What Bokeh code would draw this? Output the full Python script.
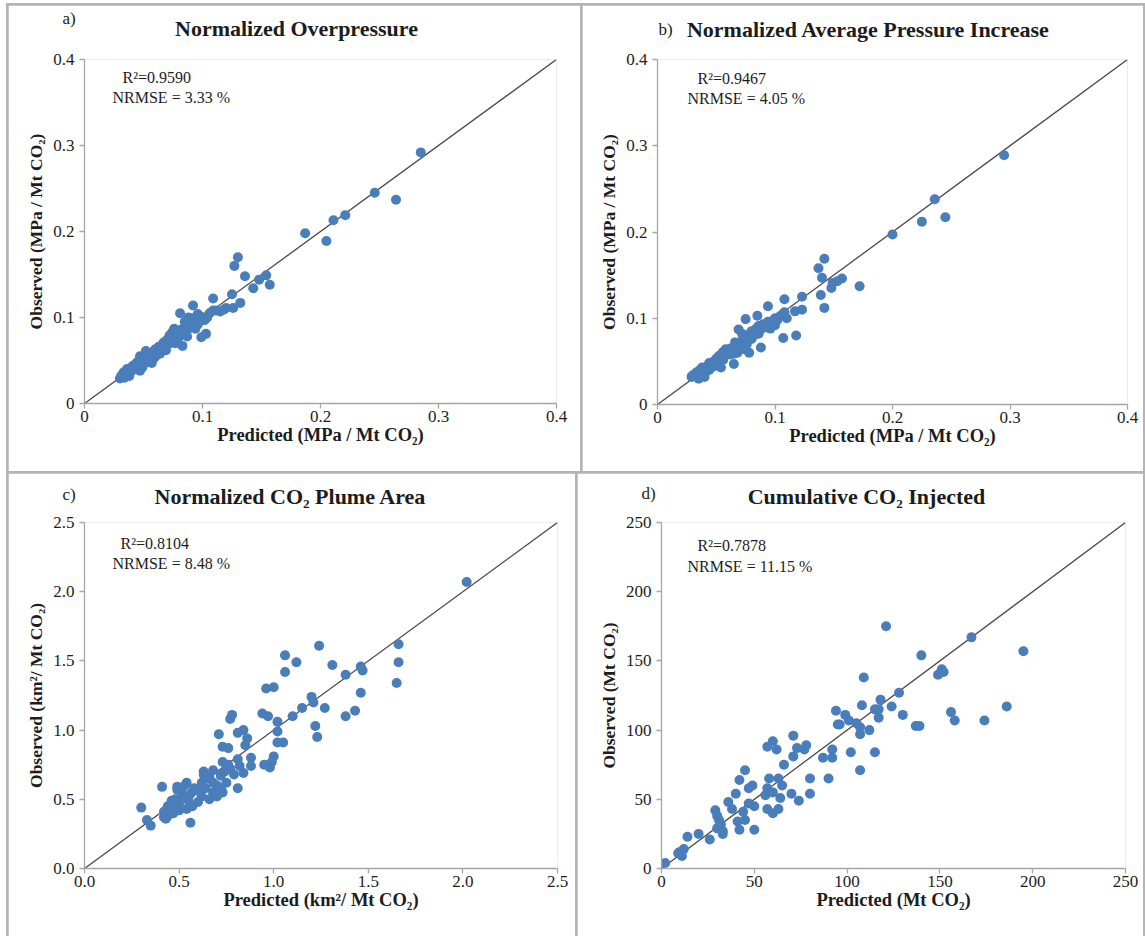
from bokeh.plotting import figure
from bokeh.layouts import row, column
from bokeh.models import Label, FixedTicker, NumeralTickFormatter, Range1d
from bokeh.embed import file_html
from bokeh.resources import INLINE

# ---------------- data ----------------
# a) Normalized Overpressure (MPa / Mt CO2)
a_pred = [0.285, 0.246, 0.264, 0.221, 0.211, 0.187, 0.205, 0.130, 0.127, 0.136,
          0.154, 0.148, 0.143, 0.157, 0.125, 0.132, 0.126, 0.120, 0.115, 0.109,
          0.109, 0.092, 0.081, 0.099, 0.102, 0.103, 0.099, 0.091, 0.086, 0.094,
          0.082, 0.075, 0.072, 0.083, 0.078, 0.067, 0.066, 0.060, 0.057, 0.052,
          0.047, 0.046, 0.053, 0.057, 0.041, 0.036, 0.033, 0.031, 0.038, 0.047,
          0.071, 0.035, 0.039, 0.043, 0.049, 0.050, 0.055, 0.058, 0.062, 0.063,
          0.068, 0.070, 0.073, 0.074, 0.076, 0.079, 0.080, 0.084, 0.088, 0.090,
          0.093, 0.096, 0.098, 0.100, 0.104, 0.106, 0.096, 0.088, 0.085, 0.077,
          0.069, 0.064, 0.059, 0.054, 0.044, 0.040, 0.034, 0.030, 0.065, 0.072,
          0.080, 0.061, 0.049, 0.075, 0.087, 0.092, 0.112, 0.118]
a_obs = [0.292, 0.245, 0.237, 0.219, 0.213, 0.198, 0.189, 0.170, 0.160, 0.148,
         0.149, 0.144, 0.134, 0.138, 0.127, 0.117, 0.111, 0.111, 0.107, 0.122,
         0.108, 0.114, 0.105, 0.101, 0.097, 0.081, 0.077, 0.099, 0.091, 0.087,
         0.086, 0.084, 0.079, 0.067, 0.074, 0.071, 0.063, 0.063, 0.057, 0.061,
         0.055, 0.050, 0.050, 0.047, 0.044, 0.040, 0.036, 0.032, 0.032, 0.038,
         0.069, 0.034, 0.041, 0.042, 0.046, 0.053, 0.055, 0.060, 0.059, 0.066,
         0.067, 0.074, 0.076, 0.082, 0.087, 0.080, 0.077, 0.082, 0.087, 0.093,
         0.095, 0.092, 0.096, 0.099, 0.100, 0.105, 0.104, 0.100, 0.095, 0.070,
         0.062, 0.058, 0.053, 0.048, 0.047, 0.038, 0.030, 0.029, 0.063, 0.072,
         0.083, 0.056, 0.042, 0.071, 0.078, 0.089, 0.108, 0.109]

# b) Normalized Average Pressure Increase (MPa / Mt CO2)
b_pred = [0.295, 0.236, 0.245, 0.225, 0.200, 0.142, 0.137, 0.140, 0.157, 0.153,
          0.149, 0.148, 0.172, 0.139, 0.142, 0.123, 0.123, 0.117, 0.108, 0.094,
          0.085, 0.075, 0.118, 0.107, 0.069, 0.088, 0.065, 0.065, 0.054, 0.040,
          0.029, 0.030, 0.033, 0.036, 0.038, 0.040, 0.042, 0.044, 0.046, 0.048,
          0.050, 0.052, 0.054, 0.056, 0.058, 0.060, 0.062, 0.064, 0.066, 0.068,
          0.070, 0.072, 0.074, 0.076, 0.078, 0.080, 0.082, 0.084, 0.086, 0.088,
          0.090, 0.092, 0.094, 0.096, 0.098, 0.100, 0.102, 0.104, 0.106, 0.108,
          0.110, 0.052, 0.056, 0.062, 0.068, 0.074, 0.078, 0.048, 0.044, 0.036,
          0.058, 0.066, 0.076, 0.086, 0.096, 0.035, 0.040, 0.072, 0.080, 0.100]
b_obs = [0.289, 0.238, 0.217, 0.212, 0.197, 0.169, 0.158, 0.147, 0.146, 0.143,
         0.141, 0.135, 0.137, 0.127, 0.112, 0.125, 0.110, 0.108, 0.122, 0.114,
         0.103, 0.099, 0.080, 0.077, 0.087, 0.066, 0.059, 0.047, 0.043, 0.032,
         0.032, 0.034, 0.037, 0.040, 0.043, 0.042, 0.044, 0.040, 0.046, 0.050,
         0.053, 0.056, 0.058, 0.061, 0.057, 0.063, 0.065, 0.063, 0.068, 0.071,
         0.066, 0.074, 0.072, 0.078, 0.081, 0.085, 0.080, 0.088, 0.091, 0.087,
         0.093, 0.090, 0.096, 0.094, 0.097, 0.100, 0.098, 0.102, 0.104, 0.107,
         0.100, 0.048, 0.052, 0.058, 0.060, 0.064, 0.060, 0.044, 0.048, 0.036,
         0.064, 0.072, 0.070, 0.082, 0.088, 0.030, 0.036, 0.082, 0.076, 0.092]

# c) Normalized CO2 Plume Area (km2 / Mt CO2)
c_pred = [2.02, 1.24, 1.66, 1.66, 1.65, 1.06, 1.06, 1.12, 1.31, 1.46,
          1.47, 1.38, 1.46, 0.96, 1.00, 1.20, 1.21, 1.15, 1.27, 1.10,
          1.38, 1.43, 1.22, 1.23, 0.94, 0.97, 1.02, 1.02, 1.02, 1.05,
          1.00, 0.99, 0.95, 0.98, 0.78, 0.77, 0.71, 0.81, 0.84, 0.86,
          0.85, 0.73, 0.76, 0.88, 0.88, 0.81, 0.84, 0.81, 0.82, 0.73,
          0.68, 0.41, 0.30, 0.33, 0.35, 0.56, 0.49, 0.54, 0.63, 0.42,
          0.43, 0.46, 0.48, 0.50, 0.52, 0.50, 0.47, 0.44, 0.42, 0.53,
          0.56, 0.58, 0.60, 0.62, 0.62, 0.64, 0.65, 0.66, 0.68, 0.70,
          0.70, 0.72, 0.72, 0.74, 0.75, 0.76, 0.73, 0.68, 0.60, 0.55,
          0.51, 0.49, 0.46, 0.44, 0.57, 0.54, 0.77, 0.79, 0.66, 0.63]
c_obs = [2.07, 1.61, 1.62, 1.49, 1.34, 1.54, 1.42, 1.49, 1.47, 1.46,
         1.43, 1.40, 1.27, 1.30, 1.31, 1.24, 1.20, 1.16, 1.16, 1.10,
         1.10, 1.14, 1.03, 0.95, 1.12, 1.10, 1.06, 0.99, 0.91, 0.91,
         0.81, 0.77, 0.75, 0.73, 1.11, 1.08, 0.97, 0.98, 1.00, 0.94,
         0.89, 0.88, 0.87, 0.80, 0.74, 0.79, 0.69, 0.58, 0.74, 0.77,
         0.71, 0.59, 0.44, 0.35, 0.31, 0.33, 0.59, 0.62, 0.68, 0.41,
         0.36, 0.45, 0.50, 0.47, 0.52, 0.42, 0.40, 0.38, 0.37, 0.60,
         0.54, 0.58, 0.56, 0.52, 0.62, 0.58, 0.65, 0.50, 0.55, 0.60,
         0.52, 0.58, 0.67, 0.70, 0.62, 0.75, 0.55, 0.62, 0.48, 0.49,
         0.56, 0.57, 0.49, 0.45, 0.45, 0.43, 0.72, 0.68, 0.66, 0.70]

# d) Cumulative CO2 Injected (Mt CO2)
d_pred = [121, 167, 195, 140, 149, 151, 152, 109, 128, 118,
          124, 108, 186, 156, 158, 174, 130, 137, 139, 115,
          117, 117, 112, 94, 99, 95, 96, 101, 105, 107,
          107, 107, 115, 102, 92, 92, 87, 90, 80, 80,
          74, 70, 71, 73, 71, 78, 77, 66, 57, 60,
          62, 65, 63, 58, 57, 64, 63, 60, 57, 56,
          45, 42, 40, 47, 49, 47, 50, 50, 44, 45,
          42, 36, 38, 41, 29, 30, 31, 32, 30, 33,
          33, 26, 20, 14, 12, 10, 11, 9, 2, 60]
d_obs = [175, 167, 157, 154, 140, 144, 142, 138, 127, 122,
         117, 118, 117, 113, 107, 107, 111, 103, 103, 115,
         115, 109, 100, 114, 111, 104, 104, 107, 105, 102,
         97, 71, 84, 84, 86, 80, 80, 65, 65, 54,
         49, 54, 81, 87, 96, 89, 86, 75, 88, 92,
         86, 60, 65, 65, 58, 51, 43, 40, 43, 53,
         71, 64, 54, 58, 60, 47, 45, 28, 41, 35,
         28, 48, 43, 34, 42, 38, 35, 32, 29, 27,
         25, 21, 25, 23, 14, 12, 9, 11, 4, 55]

a_ticks = [0, 0.1, 0.2, 0.3, 0.4]
c_ticks = [0, 0.5, 1.0, 1.5, 2.0, 2.5]
d_ticks = [0, 50, 100, 150, 200, 250]

panels = [
    dict(tag="a)", title="Normalized Overpressure", xs=a_pred, ys=a_obs, ticks=a_ticks, fmt="0.[0]",
         xlabel="Predicted (MPa / Mt CO\u2082)", ylabel="Observed (MPa / Mt CO\u2082)",
         r2="R\u00b2=0.9590", nrmse="NRMSE = 3.33 %"),
    dict(tag="b)", title="Normalized Average Pressure Increase", xs=b_pred, ys=b_obs, ticks=a_ticks, fmt="0.[0]",
         xlabel="Predicted (MPa / Mt CO\u2082)", ylabel="Observed (MPa / Mt CO\u2082)",
         r2="R\u00b2=0.9467", nrmse="NRMSE = 4.05 %"),
    dict(tag="c)", title="Normalized CO\u2082 Plume Area", xs=c_pred, ys=c_obs, ticks=c_ticks, fmt="0.0",
         xlabel="Predicted (km\u00b2/ Mt CO\u2082)", ylabel="Observed (km\u00b2/ Mt CO\u2082)",
         r2="R\u00b2=0.8104", nrmse="NRMSE = 8.48 %"),
    dict(tag="d)", title="Cumulative CO\u2082 Injected", xs=d_pred, ys=d_obs, ticks=d_ticks, fmt="0",
         xlabel="Predicted (Mt CO\u2082)", ylabel="Observed (Mt CO\u2082)",
         r2="R\u00b2=0.7878", nrmse="NRMSE = 11.15 %"),
]

# page geometry in absolute pixels:
# ox/oy canvas origin, W/H canvas size, X0/X1 pixel of axis min/max, Y0/Y1 pixel of axis min/max,
# text anchors (tag left/middle, title centre, R2 line, NRMSE line)
geo = [
    dict(ox=8, oy=5, W=572, H=466, X0=84, X1=556, Y0=403, Y1=59,
         tag=(62, 18), title=(296, 28), r2=(122, 77), nr=(112, 97)),
    dict(ox=582, oy=5, W=561, H=466, X0=657, X1=1127, Y0=403, Y1=58,
         tag=(658, 28), title=(868, 28), r2=(697, 77), nr=(687, 97)),
    dict(ox=8, oy=473, W=567, H=463, X0=84, X1=557, Y0=868, Y1=522,
         tag=(62, 494), title=(290, 496), r2=(120, 543), nr=(112, 563)),
    dict(ox=577, oy=473, W=566, H=463, X0=661, X1=1125, Y0=868, Y1=522,
         tag=(641, 493), title=(866, 496), r2=(697, 545), nr=(687, 566)),
]

SERIF = "Liberation Serif"
TXT = "#1c1c1c"
AX = "#a6a6a6"


def make_label(ref_x, ref_y, pos, txt, size, bold=False, align="left"):
    # screen position measured from a panel's left edge (ref_x) and bottom edge (ref_y)
    ax, ay = pos
    return Label(x=ax - ref_x, y=ref_y - ay, x_units="screen", y_units="screen",
                 text=txt, text_font=SERIF, text_font_size=f"{size}px",
                 text_font_style="bold" if bold else "normal",
                 text_align=align, text_baseline="middle", text_color=TXT)


figs = []
for d, g in zip(panels, geo):
    lo, hi = d["ticks"][0], d["ticks"][-1]
    p = figure(frame_width=g["X1"] - g["X0"], frame_height=g["Y0"] - g["Y1"],
               min_border_left=g["X0"] - g["ox"], min_border_top=g["Y1"] - g["oy"],
               min_border_right=g["W"] - (g["X1"] - g["ox"]),
               min_border_bottom=g["H"] - (g["Y0"] - g["oy"]),
               x_range=Range1d(lo, hi), y_range=Range1d(lo, hi),
               output_backend="svg", toolbar_location=None, title=None,
               background_fill_color="white", border_fill_color="white")
    p.outline_line_color = None
    p.grid.visible = False
    for ax in (p.xaxis[0], p.yaxis[0]):
        ax.ticker = FixedTicker(ticks=d["ticks"])
        ax.formatter = NumeralTickFormatter(format=d["fmt"])
        ax.axis_line_color = AX
        ax.axis_line_width = 1.3
        ax.major_tick_line_color = AX
        ax.major_tick_line_width = 1.3
        ax.major_tick_out = 5
        ax.major_tick_in = 0
        ax.minor_tick_line_color = None
        ax.major_label_text_font = SERIF
        ax.major_label_text_font_size = "17px"
        ax.major_label_text_color = TXT
        ax.axis_label_text_font = SERIF
        ax.axis_label_text_font_style = "bold"
        ax.axis_label_text_color = TXT
    p.xaxis.axis_label_text_font_size = "18.5px"
    p.yaxis.axis_label_text_font_size = "17.5px"
    p.xaxis.axis_label = d["xlabel"]
    p.yaxis.axis_label = d["ylabel"]
    p.xaxis.major_label_standoff = 2
    p.xaxis.axis_label_standoff = 0
    p.yaxis.major_label_standoff = 5
    p.yaxis.axis_label_standoff = 4

    p.line([lo, hi], [lo, hi], line_color="#4a4a4a", line_width=1.3)
    p.scatter(d["xs"], d["ys"], size=10, fill_color="#4a7ebb", line_color=None)

    # statistics inside the plot frame (frame left / bottom as reference)
    p.add_layout(make_label(g["X0"], g["Y0"], g["r2"], d["r2"], 16))
    p.add_layout(make_label(g["X0"], g["Y0"], g["nr"], d["nrmse"], 16))
    # title in the panel above the frame (frame left / frame top as reference)
    p.add_layout(make_label(g["X0"], g["Y1"], g["title"], d["title"], 22, bold=True, align="center"), "above")
    # panel tag in the right side panel (frame right / frame bottom as reference)
    p.add_layout(make_label(g["X1"], g["Y0"], g["tag"], d["tag"], 17), "right")
    figs.append(p)

top = row(figs[0], figs[1], spacing=2)
bottom = row(figs[2], figs[3], spacing=2)
layout = column(top, bottom, spacing=2, margin=(3, 0, 0, 6),
                styles={"background-color": "#b4b4b4", "padding": "2px 2px 0px 2px"})

open("out.html", "w").write(file_html(layout, INLINE))
